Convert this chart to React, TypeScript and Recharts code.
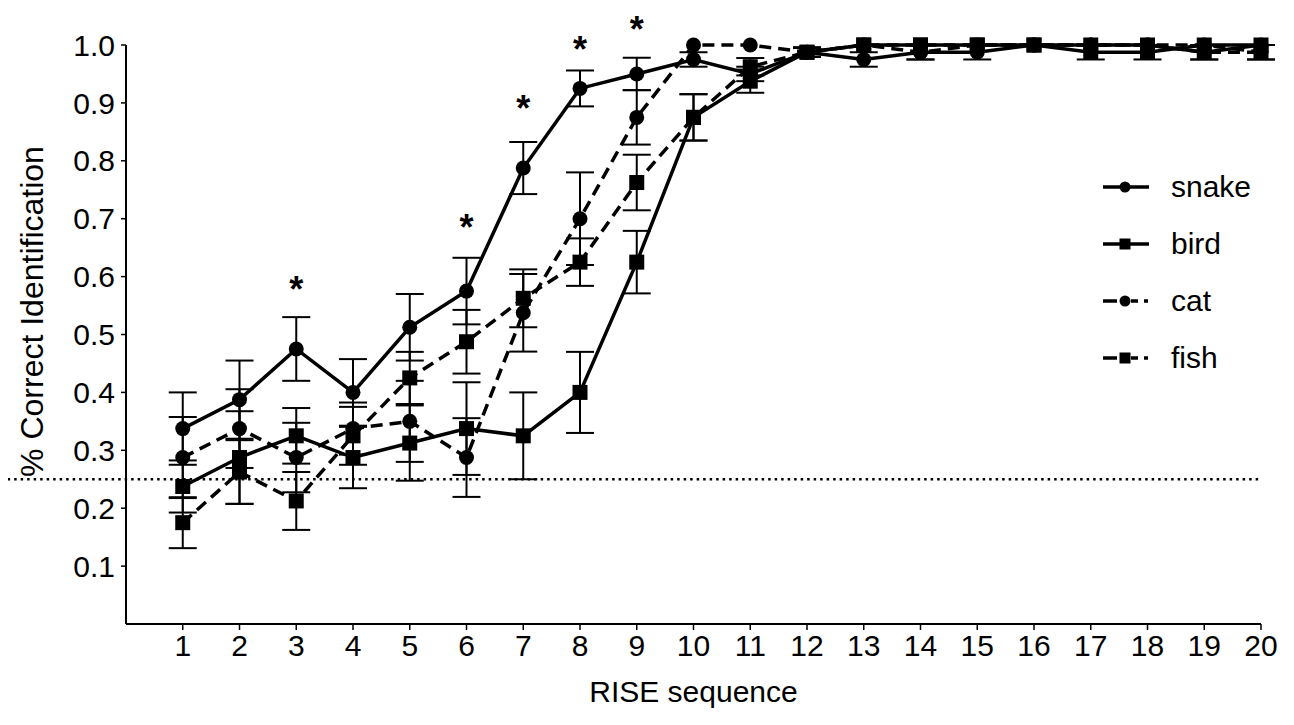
import React from 'react';
import {
  LineChart,
  Line,
  XAxis,
  YAxis,
  ErrorBar,
  ReferenceLine,
  ReferenceDot,
  Legend,
} from 'recharts';

const FONT = '"Liberation Sans", Arial, Helvetica, sans-serif';

// RISE sequence steps
const sequence = [1, 2, 3, 4, 5, 6, 7, 8, 9, 10, 11, 12, 13, 14, 15, 16, 17, 18, 19, 20];

const snake = [0.3375, 0.3875, 0.475, 0.4, 0.5125, 0.575, 0.7875, 0.925, 0.95, 0.975, 0.95, 0.9875, 0.975, 0.9875, 0.9875, 1.0, 1.0, 1.0, 0.9875, 1.0];
const snakeErr = [0.0625, 0.0675, 0.055, 0.0575, 0.0575, 0.0575, 0.045, 0.031, 0.028, 0.0125, 0.0125, 0.008, 0.0125, 0.0125, 0.0125, 0, 0, 0, 0.0125, 0];

const bird = [0.2375, 0.2875, 0.325, 0.2875, 0.3125, 0.3375, 0.325, 0.4, 0.625, 0.875, 0.9375, 0.9875, 1.0, 1.0, 1.0, 1.0, 0.9875, 0.9875, 1.0, 1.0];
const birdErr = [0.045, 0.08, 0.048, 0.053, 0.065, 0.08, 0.075, 0.07, 0.054, 0.04, 0.02, 0.008, 0, 0, 0, 0, 0.0125, 0.0125, 0, 0];

const cat = [0.2875, 0.3375, 0.2875, 0.3375, 0.35, 0.2875, 0.5375, 0.7, 0.875, 1.0, 1.0, 0.9875, 1.0, 0.9875, 1.0, 1.0, 1.0, 1.0, 1.0, 0.9875];
const catErr = [0.07, 0.068, 0.06, 0.045, 0.07, 0.068, 0.067, 0.08, 0.047, 0, 0, 0.008, 0, 0.0125, 0, 0, 0, 0, 0, 0.0125];

const fish = [0.175, 0.2625, 0.2125, 0.325, 0.425, 0.4875, 0.5625, 0.625, 0.7625, 0.875, 0.9625, 0.9875, 1.0, 1.0, 1.0, 1.0, 1.0, 1.0, 0.9875, 0.9875];
const fishErr = [0.044, 0.055, 0.05, 0.05, 0.045, 0.055, 0.05, 0.041, 0.048, 0.04, 0.015, 0.008, 0, 0, 0, 0, 0, 0, 0.0125, 0.0125];

const yTicks = [0.1, 0.2, 0.3, 0.4, 0.5, 0.6, 0.7, 0.8, 0.9, 1.0];

// significance markers (step, height of the asterisk)
const sigSteps = [3, 6, 7, 8, 9];
const sigHeights = [0.594, 0.701, 0.908, 1.009, 1.044];

// chance level, drawn from the left edge of the figure
const chance = 0.25;
const chanceFrom = -2.2;
const chanceTo = 20;

const data = sequence.map((x, i) => ({
  x,
  snake: snake[i],
  snakeErr: snakeErr[i],
  bird: bird[i],
  birdErr: birdErr[i],
  cat: cat[i],
  catErr: catErr[i],
  fish: fish[i],
  fishErr: fishErr[i],
}));

type Marker = 'circle' | 'square';

const series: { key: string; marker: Marker; dashed: boolean }[] = [
  { key: 'snake', marker: 'circle', dashed: false },
  { key: 'bird', marker: 'square', dashed: false },
  { key: 'cat', marker: 'circle', dashed: true },
  { key: 'fish', marker: 'square', dashed: true },
];

const markerDot = (kind: Marker, name: string) => (props: any) => {
  const { cx, cy, index } = props;
  if (cx == null || cy == null) return <g key={`${name}-${index}`} />;
  return kind === 'circle' ? (
    <circle key={`${name}-${index}`} cx={cx} cy={cy} r={7.5} fill="#000" />
  ) : (
    <rect key={`${name}-${index}`} x={cx - 7.5} y={cy - 7.5} width={15} height={15} fill="#000" />
  );
};

const LegendIcon = ({ marker, dashed }: { marker: Marker; dashed: boolean }) => (
  <svg width={46} height={20} style={{ display: 'block' }}>
    {dashed ? (
      <>
        <line x1={0} y1={10} x2={14} y2={10} stroke="#000" strokeWidth={3.5} />
        <line x1={28} y1={10} x2={35} y2={10} stroke="#000" strokeWidth={3.5} />
        <line x1={41} y1={10} x2={45} y2={10} stroke="#000" strokeWidth={3.5} />
      </>
    ) : (
      <line x1={0} y1={10} x2={46} y2={10} stroke="#000" strokeWidth={3.5} />
    )}
    {marker === 'circle' ? (
      <circle cx={22} cy={10} r={5.5} fill="#000" />
    ) : (
      <rect x={16.5} y={4.5} width={11} height={11} fill="#000" />
    )}
  </svg>
);

const LegendBox = () => (
  <div style={{ fontFamily: FONT, fontSize: 30, color: '#000' }}>
    {series.map((s) => (
      <div key={s.key} style={{ display: 'flex', alignItems: 'center', height: 57 }}>
        <LegendIcon marker={s.marker} dashed={s.dashed} />
        <span style={{ marginLeft: 22, lineHeight: 1 }}>{s.key}</span>
      </div>
    ))}
  </div>
);

const YLabel = (props: any) => {
  const vb = props.viewBox || {};
  const cy = (vb.y ?? 37) + (vb.height ?? 579) / 2 - 23;
  const x = 35;
  return (
    <text
      x={x}
      y={cy}
      transform={`rotate(-90, ${x}, ${cy})`}
      textAnchor="middle"
      fill="#000"
      fontSize={32}
      fontFamily={FONT}
    >
      % Correct Identification
    </text>
  );
};

const Asterisk = (props: any) => (
  <text
    x={props.cx}
    y={props.cy}
    dy="0.62em"
    textAnchor="middle"
    fontSize={36}
    fontWeight="bold"
    fontFamily={FONT}
    fill="#000"
  >
    *
  </text>
);

export default function App() {
  return (
    <div style={{ width: 1278, height: 709 }}>
      <LineChart
        width={1278}
        height={709}
        data={data}
        margin={{ top: 37, right: 25, left: 0, bottom: 0 }}
      >
        <XAxis
          dataKey="x"
          type="number"
          domain={[0, 20]}
          ticks={sequence}
          interval={0}
          height={93}
          tickSize={6}
          tickMargin={5}
          axisLine={{ stroke: '#000', strokeWidth: 2 }}
          tickLine={{ stroke: '#000', strokeWidth: 1.5 }}
          tick={{ fill: '#000', fontSize: 30, fontFamily: FONT }}
          label={{
            value: 'RISE sequence',
            position: 'insideBottom',
            offset: 15,
            fill: '#000',
            fontSize: 30,
            fontFamily: FONT,
          }}
        />
        <YAxis
          type="number"
          domain={[0, 1]}
          ticks={yTicks}
          interval={0}
          width={118}
          tickSize={5}
          tickMargin={6}
          tickFormatter={(v: number) => v.toFixed(1)}
          axisLine={{ stroke: '#000', strokeWidth: 2 }}
          tickLine={{ stroke: '#000', strokeWidth: 1.5 }}
          tick={{ fill: '#000', fontSize: 30, fontFamily: FONT }}
          label={YLabel}
        />
        <ReferenceLine
          segment={[
            { x: chanceFrom, y: chance },
            { x: chanceTo, y: chance },
          ]}
          ifOverflow="visible"
          stroke="#000"
          strokeWidth={2.5}
          strokeDasharray="2.5 4"
        />
        {series.map((s) => (
          <Line
            key={s.key}
            type="linear"
            dataKey={s.key}
            stroke="#000"
            strokeWidth={3.5}
            strokeDasharray={s.dashed ? '12 7' : undefined}
            dot={markerDot(s.marker, s.key)}
            activeDot={false}
            isAnimationActive={false}
          >
            <ErrorBar
              dataKey={`${s.key}Err`}
              direction="y"
              width={14}
              stroke="#000"
              strokeWidth={2}
            />
          </Line>
        ))}
        {sigSteps.map((step, i) => (
          <ReferenceDot
            key={`sig-${step}`}
            x={step}
            y={sigHeights[i]}
            ifOverflow="visible"
            shape={Asterisk}
          />
        ))}
        <Legend
          layout="horizontal"
          verticalAlign="middle"
          align="center"
          content={LegendBox}
          wrapperStyle={{ top: 150, left: 1095, width: 180 }}
        />
      </LineChart>
    </div>
  );
}
